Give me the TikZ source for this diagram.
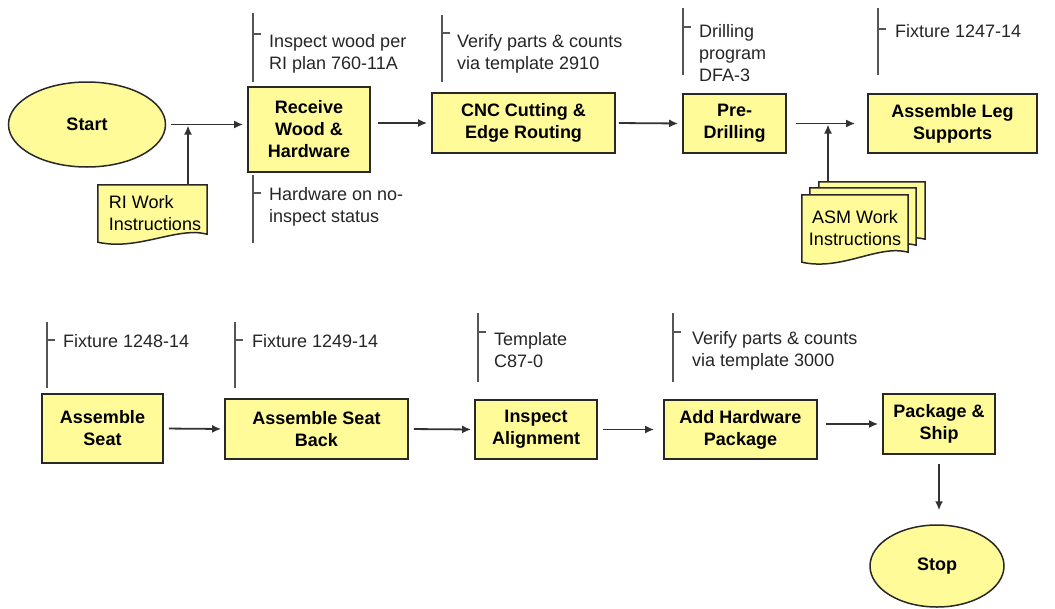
\documentclass[tikz,border=0pt]{standalone}
\usepackage{fontspec}
\setmainfont{Liberation Sans}
\usetikzlibrary{calc,arrows.meta,shapes.geometric}
\pgfdeclarelayer{bg}
\pgfsetlayers{bg,main}
\definecolor{boxfill}{RGB}{255,251,153}
\definecolor{edge}{RGB}{40,40,40}
\definecolor{wire}{RGB}{50,50,50}
\definecolor{bracket}{RGB}{85,85,85}

% outline of a document symbol around a placeholder node, wavy bottom edge
\newcommand\docoutline[2]{%
  \path[docline] (#1.north west) -- (#1.north east)
    -- ($(#1.south east)+(0,-#2)$)
    .. controls ($(#1.south east)+(-30,-#2-8)$) and ($(#1.south west)+(40,9)$) .. (#1.south west)
    -- cycle;}

\begin{document}
\begin{tikzpicture}[x=1pt,y=-1pt,
  proc/.style={draw=edge, line width=1.7pt, fill=boxfill, inner sep=0pt, align=center,
               font=\bfseries\fontsize{18}{22}\selectfont},
  term/.style={ellipse, draw=edge, line width=1.5pt, fill=boxfill, inner sep=0pt,
               font=\bfseries\fontsize{18}{22}\selectfont},
  docbox/.style={inner sep=0pt, align=left, font=\fontsize{18}{22}\selectfont},
  docline/.style={draw=edge, line width=1.5pt, fill=boxfill},
  note/.style={anchor=north west, inner sep=0pt, align=left,
               font=\fontsize{18}{22}\selectfont, text=black!85},
  bar/.style={draw=bracket, line width=1.4pt},
  arr/.style={draw=wire, line width=1.8pt, -{Latex[length=9pt,width=8pt]},
              shorten <=5pt, shorten >=4pt},
]
\useasboundingbox (0,0) rectangle (1055,608);

% ---------- first row ----------
\node[term, minimum width=157, minimum height=85] (start) at (87,124.5) {Start};
\node[proc, minimum width=122, minimum height=85] (recv) at (309,129.5) {Receive\\Wood \&\\Hardware};
\node[proc, minimum width=183, minimum height=60] (cnc) at (523.5,123) {CNC Cutting \&\\Edge Routing};
\node[proc, minimum width=103, minimum height=59] (pre) at (734.5,123.5) {Pre-\\Drilling};
\node[proc, minimum width=169, minimum height=59] (leg) at (952.5,123.5) {Assemble Leg\\Supports};

% work instruction documents
\node[docbox, minimum width=109, minimum height=57] (ri) at (152.5,213.5) {\hspace*{5pt}RI Work\\\hspace*{5pt}Instructions};
\node[minimum width=106, minimum height=67, inner sep=0pt] (asmc) at (872,215.5) {};
\node[minimum width=106, minimum height=67, inner sep=0pt] (asmb) at (863,221.5) {};
\node[docbox, align=center, minimum width=106, minimum height=67] (asm) at (855,228.5) {ASM Work\\Instructions};
\begin{pgfonlayer}{bg}
  \fill[white] (0,0) rectangle (1055,608);
  \docoutline{ri}{8}
  \docoutline{asmc}{10}
  \docoutline{asmb}{10}
  \docoutline{asm}{10}
\end{pgfonlayer}

% ---------- second row ----------
\node[proc, minimum width=121, minimum height=69] (seat) at (102.5,428.5) {Assemble\\Seat};
\node[proc, minimum width=183, minimum height=60] (back) at (316.5,429) {Assemble Seat\\Back};
\node[proc, minimum width=122, minimum height=59] (insp) at (536,429.5) {Inspect\\Alignment};
\node[proc, minimum width=153, minimum height=59] (addhw) at (740.5,429.5) {Add Hardware\\Package};
\node[proc, minimum width=112, minimum height=60] (pack) at (939,424) {Package \&\\Ship};
\node[term, minimum width=134, minimum height=82] (stop) at (937,566) {Stop};

% ---------- annotations ----------
\node[note] (n1) at (269,31.6) {\strut Inspect wood per\\RI plan 760-11A};
\node[note] (n2) at (269,184.6) {\strut Hardware on no-\\inspect status};
\node[note] (n3) at (457,31.6) {\strut Verify parts \& counts\\via template 2910};
\node[note] (n4) at (699,21.6) {\strut Drilling\\program\\DFA-3};
\node[note] (n5) at (895,21.6) {\strut Fixture 1247-14};
\node[note] (n6) at (63,331.6) {\strut Fixture 1248-14};
\node[note] (n7) at (252,331.6) {\strut Fixture 1249-14};
\node[note] (n8) at (494,329.6) {\strut Template\\C87-0};
\node[note] (n9) at (692,328.6) {\strut Verify parts \& counts\\via template 3000};

\draw[bar] (253,13) -- (253,82);   \draw[bar] (253,34) -- ++(8,0);
\draw[bar] (253,175) -- (253,243); \draw[bar] (253,193) -- ++(8,0);
\draw[bar] (442,15) -- (442,82);   \draw[bar] (442,33) -- ++(8,0);
\draw[bar] (683,8) -- (683,75);    \draw[bar] (683,27) -- ++(8,0);
\draw[bar] (878,8) -- (878,75);    \draw[bar] (878,29) -- ++(8,0);
\draw[bar] (47,322) -- (47,388);   \draw[bar] (47,340) -- ++(8,0);
\draw[bar] (235,322) -- (235,388); \draw[bar] (235,340) -- ++(8,0);
\draw[bar] (478,313) -- (478,382); \draw[bar] (478,332) -- ++(8,0);
\draw[bar] (673,313) -- (673,382); \draw[bar] (673,332) -- ++(8,0);

% ---------- connectors ----------
\coordinate (j1) at (188,124.5);
\coordinate (j2) at (828,123.5);
\draw[arr] (start.east) -- (start.east -| recv.west);
\draw[arr, shorten <=0pt, shorten >=1pt] (ri.north -| j1) -- (j1);
\draw[arr, shorten <=7pt] (recv.east |- cnc.west) -- (cnc.west);
\draw[arr, shorten <=3pt] (cnc.east) -- (pre.west);
\draw[arr, shorten <=9pt, shorten >=12pt] (pre.east) -- (pre.east -| leg.west);
\draw[arr, shorten <=0pt, shorten >=1pt] (asmc.north -| j2) -- (j2);

\draw[arr, shorten >=3pt] (seat.east) -- (back.west);
\draw[arr, shorten >=3pt] (back.east) -- (insp.west);
\draw[arr, shorten >=9pt] (insp.east) -- (addhw.west);
\draw[arr, shorten <=8pt] (addhw.east |- pack.west) -- (pack.west);
\draw[arr, shorten <=9pt, shorten >=14pt] (pack.south) -- (pack.south |- stop.north);
\end{tikzpicture}
\end{document}
